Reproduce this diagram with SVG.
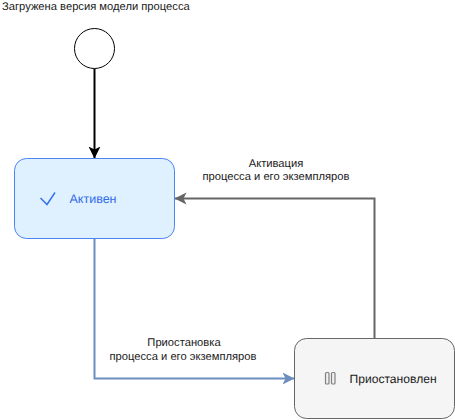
<svg xmlns="http://www.w3.org/2000/svg" width="455" height="420" viewBox="0 0 455 420">
<defs>
<marker id="ab" markerUnits="userSpaceOnUse" markerWidth="14" markerHeight="14" refX="12" refY="7" orient="auto"><path d="M0 1 L12 7 L0 13 L3 7 Z" fill="#000"/></marker>
<marker id="ag" markerUnits="userSpaceOnUse" markerWidth="14" markerHeight="14" refX="12" refY="7" orient="auto"><path d="M0 1 L12 7 L0 13 L3 7 Z" fill="#666"/></marker>
<marker id="au" markerUnits="userSpaceOnUse" markerWidth="14" markerHeight="14" refX="12" refY="7" orient="auto"><path d="M0 1 L12 7 L0 13 L3 7 Z" fill="#6c8ebf"/></marker>
</defs>
<style>
text{font-family:"Liberation Sans",Arial,sans-serif;font-size:11.2px;fill:#1a1a1a;text-rendering:geometricPrecision}
.c{text-anchor:middle}
.e{fill:none;stroke-width:2}
</style>
<rect width="455" height="420" fill="#fff"/>
<g id="connectors">
<path class="e" d="M94.5 68.5V158.5" stroke="#000" marker-end="url(#ab)"/>
<path class="e" d="M94.5 238.5V378.5H294.5" stroke="#6c8ebf" marker-end="url(#au)"/>
<path class="e" d="M374.5 338.5V198.5H174.5" stroke="#666" marker-end="url(#ag)"/>
</g>
<g id="start-label"><text x="2" y="10">Загружена версия модели процесса</text></g>
<g id="start"><circle cx="94.5" cy="48.5" r="20" fill="#fff" stroke="#000"/></g>
<g id="active">
<rect x="14.5" y="158.5" width="160" height="80" rx="12" fill="#dff1ff" stroke="#4a84f5"/>
<path d="M40.5 198L47 204.5L55 192.5" fill="none" stroke="#3572ee" stroke-width="1.5"/>
<text x="69.5" y="203" style="font-size:12.5px;fill:#2f6bea">Активен</text>
</g>
<g id="paused">
<rect x="294.5" y="338.5" width="160" height="80" rx="12" fill="#f5f5f5" stroke="#666"/>
<rect x="325.5" y="372.5" width="3.5" height="11.5" rx="1" fill="#f0f0f0" stroke="#808080" stroke-width="1.2"/>
<rect x="331.5" y="372.5" width="3.5" height="11.5" rx="1" fill="#f0f0f0" stroke="#808080" stroke-width="1.2"/>
<text x="349.5" y="383" style="font-size:12.1px">Приостановлен</text>
</g>
<g id="label-activate"><text class="c" x="276" y="167">Активация</text><text class="c" x="276" y="180">процесса и его экземпляров</text></g>
<g id="label-pause"><text class="c" x="184" y="346">Приостановка</text><text class="c" x="183" y="360">процесса и его экземпляров</text></g>
</svg>
